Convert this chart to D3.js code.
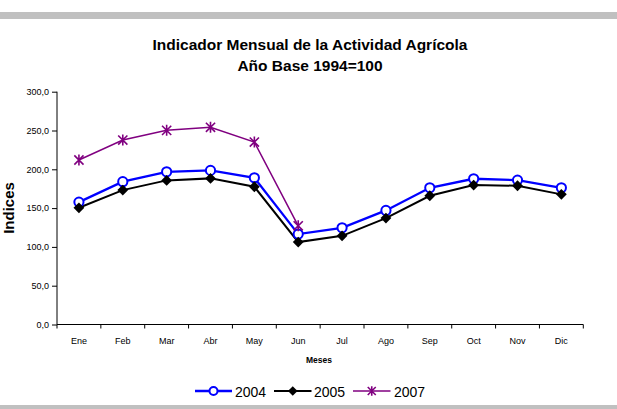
<!DOCTYPE html>
<html>
<head>
<meta charset="utf-8">
<script src="https://cdn.jsdelivr.net/npm/d3@7"></script>
<style>
  html, body { margin: 0; padding: 0; background: #fff; }
  svg { display: block; font-family: "Liberation Sans", Arial, sans-serif; }
</style>
</head>
<body>
<svg id="chart" width="617" height="409"></svg>
<script>
// Monthly agricultural activity index (base 1994 = 100)
const months = ["Ene", "Feb", "Mar", "Abr", "May", "Jun", "Jul", "Ago", "Sep", "Oct", "Nov", "Dic"];
const values2004 = [157.7, 184.0, 196.8, 198.6, 189.1, 116.5, 124.6, 147.0, 176.2, 187.8, 186.1, 176.2];
const values2005 = [150.4, 173.2, 185.7, 188.3, 177.5, 106.2, 114.3, 137.1, 165.9, 179.7, 178.8, 167.7];
const values2007 = [212.0, 237.7, 250.2, 254.1, 235.1, 127.2];
const yTicks = [0, 50, 100, 150, 200, 250, 300];
const seriesNames = ["2004", "2005", "2007"];

const svg = d3.select("#chart");
const W = 617, H = 409;
const plot = { left: 57, right: 583.3, top: 91.7, bottom: 324.5 };

// frame bands
svg.append("rect").attr("x", 0).attr("y", 12).attr("width", W).attr("height", 7).attr("fill", "#c0c0c0");
svg.append("rect").attr("x", 0).attr("y", 405).attr("width", W).attr("height", 4).attr("fill", "#c0c0c0");

// title
const title = svg.append("text").attr("text-anchor", "middle").attr("font-weight", "bold")
  .attr("font-size", 15.5).attr("fill", "#000");
title.append("tspan").attr("x", 310).attr("y", 50).text("Indicador Mensual de la Actividad Agrícola");
title.append("tspan").attr("x", 310).attr("y", 71).text("Año Base 1994=100");

const x = d3.scaleBand().domain(months).range([plot.left, plot.right]);
const y = d3.scaleLinear().domain([0, 300]).range([plot.bottom, plot.top]);
const cx = m => x(m) + x.bandwidth() / 2;

// y axis
const yAxis = svg.append("g").attr("transform", `translate(${plot.left},0)`)
  .call(d3.axisLeft(y).tickValues(yTicks).tickSize(5).tickPadding(3)
    .tickFormat(d => d3.format(".1f")(d).replace(".", ",")));
yAxis.select(".domain").attr("stroke", "#000").attr("d", `M0,${plot.top}V${plot.bottom}`);
yAxis.selectAll(".tick line").attr("stroke", "#000");
yAxis.selectAll("text").attr("font-size", 9).attr("fill", "#000")
  .attr("font-family", "Liberation Sans, Arial, sans-serif");

// x axis with ticks on category boundaries
const xAxisG = svg.append("g").attr("transform", `translate(0,${plot.bottom})`);
xAxisG.append("line").attr("x1", plot.left).attr("x2", plot.right).attr("stroke", "#000");
const boundaries = months.map(m => x(m)).concat([plot.right]);
xAxisG.selectAll("line.tk").data(boundaries).join("line").attr("class", "tk")
  .attr("x1", d => d).attr("x2", d => d).attr("y1", 0).attr("y2", 4).attr("stroke", "#000");
xAxisG.selectAll("text").data(months).join("text")
  .attr("x", d => cx(d)).attr("y", 19.5).attr("text-anchor", "middle")
  .attr("font-size", 9).attr("fill", "#000").text(d => d);

// axis titles
svg.append("text").attr("x", 319).attr("y", 363).attr("text-anchor", "middle")
  .attr("font-size", 8.5).attr("font-weight", "bold").attr("fill", "#000").text("Meses");
svg.append("text").attr("transform", "translate(14,208) rotate(-90)").attr("text-anchor", "middle")
  .attr("font-size", 15).attr("font-weight", "bold").attr("fill", "#000").text("Indices");

// marker shapes
const diamond = s => `M0,${-s}L${s},0L0,${s}L${-s},0Z`;
const star = s => `M${-s},${-s}L${s},${s}M${-s},${s}L${s},${-s}M0,${-s * 1.2}L0,${s * 1.2}`;

const series = [
  { name: seriesNames[0], values: values2004, color: "#0000ff", width: 2.3, marker: "circle" },
  { name: seriesNames[1], values: values2005, color: "#000000", width: 2, marker: "diamond" },
  { name: seriesNames[2], values: values2007, color: "#800080", width: 1.5, marker: "star" }
];

function drawMarker(g, type, color, size) {
  if (type === "circle") {
    g.append("circle").attr("r", size).attr("fill", "#fff").attr("stroke", color).attr("stroke-width", 2);
  } else if (type === "diamond") {
    g.append("path").attr("d", diamond(size + 0.8)).attr("fill", color);
  } else {
    g.append("path").attr("d", star(size)).attr("fill", "none").attr("stroke", color).attr("stroke-width", 1.6);
  }
}

const line = d3.line().x(d => cx(d.m)).y(d => y(d.v));
series.forEach(s => {
  const pts = s.values.map((v, i) => ({ m: months[i], v }));
  svg.append("path").datum(pts).attr("d", line).attr("fill", "none")
    .attr("stroke", s.color).attr("stroke-width", s.width);
});
// markers on top of all lines, in series order
series.forEach(s => {
  const pts = s.values.map((v, i) => ({ m: months[i], v }));
  pts.forEach(p => {
    const g = svg.append("g").attr("transform", `translate(${cx(p.m)},${y(p.v)})`);
    drawMarker(g, s.marker, s.color, 4.6);
  });
});

// legend
const legendItems = [
  { x0: 195, x1: 232, tx: 235 },
  { x0: 274, x1: 311.5, tx: 314 },
  { x0: 353, x1: 390.5, tx: 394 }
];
const ly = 391;
series.forEach((s, i) => {
  const li = legendItems[i];
  svg.append("line").attr("x1", li.x0).attr("x2", li.x1).attr("y1", ly).attr("y2", ly)
    .attr("stroke", s.color).attr("stroke-width", s.width);
  const g = svg.append("g").attr("transform", `translate(${(li.x0 + li.x1) / 2},${ly})`);
  drawMarker(g, s.marker, s.color, 4);
  svg.append("text").attr("x", li.tx).attr("y", ly + 5.5).attr("font-size", 14)
    .attr("fill", "#000").text(s.name);
});
</script>
</body>
</html>
